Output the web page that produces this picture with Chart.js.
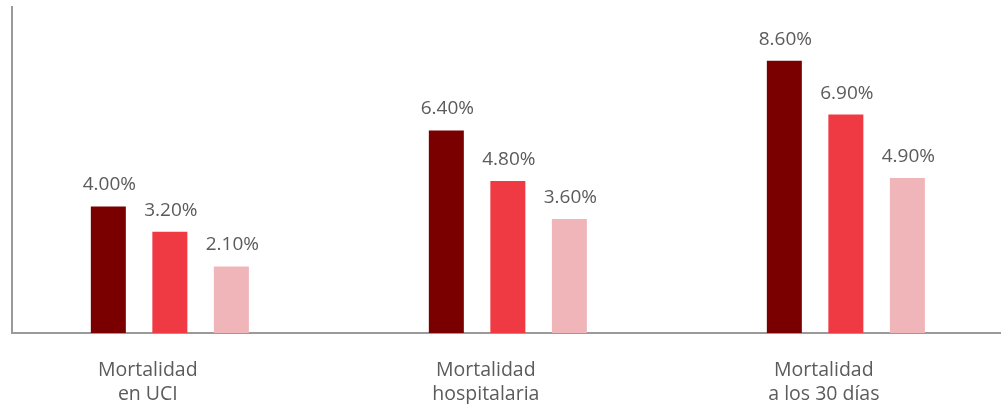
<!DOCTYPE html>
<html lang="es">
<head>
<meta charset="UTF-8" />
<title>Mortalidad</title>
<style>
  html, body { margin: 0; padding: 0; background: #ffffff; }
  #wrap { width: 1001px; height: 404px; position: relative; }
</style>
</head>
<body>
<div id="wrap"><canvas id="chart"></canvas></div>

<script src="https://cdn.jsdelivr.net/npm/chart.js"></script>
<script>
  // categories and series (percent)
  const categories = ['Mortalidad\nen UCI', 'Mortalidad\nhospitalaria', 'Mortalidad\na los 30 días'];
  const serieA = [4.0, 6.4, 8.6];
  const serieB = [3.2, 4.8, 6.9];
  const serieC = [2.1, 3.6, 4.9];
  const colors = ['#7a0000', '#ef3a44', '#efb5b9'];

  const textColor = '#5b5b5b';
  const fontFamily = '"Open Sans", "DejaVu Sans", sans-serif';

  // value labels drawn above each bar
  const valueLabels = {
    id: 'valueLabels',
    afterDatasetsDraw(chart) {
      const ctx = chart.ctx;
      ctx.save();
      ctx.fillStyle = textColor;
      ctx.font = '19px ' + fontFamily;
      ctx.textAlign = 'center';
      ctx.textBaseline = 'bottom';
      chart.data.datasets.forEach((ds, i) => {
        chart.getDatasetMeta(i).data.forEach((bar, j) => {
          ctx.fillText(ds.data[j].y.toFixed(2) + '%', bar.x + 1, bar.y - 12);
        });
      });
      ctx.restore();
    }
  };

  function toPoints(values) {
    return values.map((v, i) => ({ x: i, y: v }));
  }

  new Chart(document.getElementById('chart'), {
    type: 'bar',
    data: {
      datasets: [serieA, serieB, serieC].map((s, i) => ({
        data: toPoints(s),
        backgroundColor: colors[i]
      }))
    },
    options: {
      responsive: true,
      maintainAspectRatio: false,
      animation: false,
      layout: { padding: { left: 11, top: 7, right: 0, bottom: 0 } },
      plugins: { legend: { display: false }, tooltip: { enabled: false } },
      datasets: { bar: { categoryPercentage: 0.546, barPercentage: 0.569 } },
      scales: {
        x: {
          type: 'linear',
          min: -0.467,
          max: 2.459,
          offset: false,
          grid: { display: false },
          border: { display: true, color: '#9a9a9a', width: 2 },
          afterBuildTicks: axis => { axis.ticks = [0, 1, 2].map(v => ({ value: v })); },
          afterFit: axis => { axis.height = 71; },
          ticks: {
            color: textColor,
            padding: 18,
            labelOffset: -22,
            font: { size: 19.5, family: fontFamily, lineHeight: 1.2 },
            maxRotation: 0,
            autoSkip: false,
            callback: v => categories[v] ? categories[v].split('\n') : ''
          }
        },
        y: {
          min: 0,
          max: 10.3,
          grid: { display: false },
          border: { display: true, color: '#9a9a9a', width: 2 },
          afterFit: axis => { axis.width = 1; },
          ticks: { display: false }
        }
      }
    },
    plugins: [valueLabels]
  });
</script>
</body>
</html>
